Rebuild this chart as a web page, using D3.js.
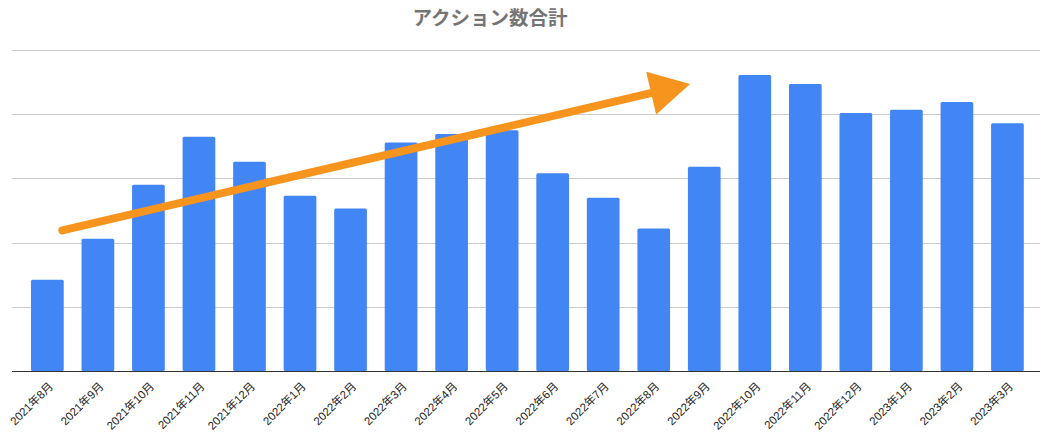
<!DOCTYPE html>
<html><head><meta charset="utf-8">
<script src="https://cdn.jsdelivr.net/npm/d3@7"></script>
<style>
html,body{margin:0;padding:0;background:#fff;}
svg{display:block;}
</style></head>
<body>
<script>
const categories = ["2021年8月","2021年9月","2021年10月","2021年11月","2021年12月","2022年1月","2022年2月","2022年3月","2022年4月","2022年5月","2022年6月","2022年7月","2022年8月","2022年9月","2022年10月","2022年11月","2022年12月","2023年1月","2023年2月","2023年3月"];
const values = [142,206,290,365,326,273,253,356,369,375,308,270,222,318,461,447,402,407,419,386];
const gridTicks = [0,100,200,300,400,500];
const titleText = "アクション数合計";
// annotation arrow in data space: [band index, value]
const arrowStart = [0.296, 219];
const arrowTip = [12.72, 447];

const W = 1052, H = 441;
const svg = d3.select("body").append("svg").attr("width", W).attr("height", H);

const x = d3.scaleBand().domain(categories).range([22.1, 1032.7]).paddingInner(0.353).paddingOuter(0.1765);
const y = d3.scaleLinear().domain([0, 500]).range([371, 50]);
const xi = i => x(categories[0]) + x.bandwidth()/2 + i * x.step();

// gridlines
svg.append("g").selectAll("line").data(gridTicks.filter(d => d > 0)).join("line")
  .attr("x1", 12).attr("x2", 1040)
  .attr("y1", d => Math.round(y(d)) + 0.5).attr("y2", d => Math.round(y(d)) + 0.5)
  .attr("stroke", "#cccccc").attr("stroke-width", 1);

// bars
svg.append("g").selectAll("rect").data(values).join("rect")
  .attr("x", (d, i) => x(categories[i]))
  .attr("width", x.bandwidth())
  .attr("y", d => y(d))
  .attr("height", d => y(0) - y(d))
  .attr("rx", 1.5)
  .attr("fill", "#4285f4");

// baseline
svg.append("line").attr("x1", 12).attr("x2", 1040)
  .attr("y1", y(0) + 0.5).attr("y2", y(0) + 0.5)
  .attr("stroke", "#333333").attr("stroke-width", 1);

// x axis labels
const xAxis = d3.axisBottom(x).tickSize(0).tickPadding(0);
const ax = svg.append("g").attr("transform", `translate(0,${y(0)})`).call(xAxis);
ax.select(".domain").remove();
ax.selectAll("text")
  .attr("font-family", "'Liberation Sans', Arial, 'Noto Sans CJK JP', sans-serif")
  .attr("font-size", 11.5)
  .attr("fill", "#222")
  .attr("text-anchor", "end")
  .attr("dy", null)
  .attr("y", 0)
  .attr("transform", "translate(6.5,16) rotate(-45)");

// title
svg.append("text").attr("x", 490).attr("y", 25)
  .attr("text-anchor", "middle")
  .attr("font-family", "'Noto Sans CJK JP', sans-serif")
  .attr("font-weight", "bold").attr("font-size", 19.5)
  .attr("fill", "#757575").text(titleText);

// arrow annotation
const sx = xi(arrowStart[0]), sy = y(arrowStart[1]);
const tx = xi(arrowTip[0]), ty = y(arrowTip[1]);
const dx = tx - sx, dy = ty - sy, L = Math.hypot(dx, dy);
const ux = dx / L, uy = dy / L, nx = -uy, ny = ux;
const headLen = 40, headHalf = 22;
const bx = tx - ux * headLen, by = ty - uy * headLen;
svg.append("line").attr("x1", sx).attr("y1", sy)
  .attr("x2", bx + ux * 4).attr("y2", by + uy * 4)
  .attr("stroke", "#f7941d").attr("stroke-width", 8).attr("stroke-linecap", "round");
svg.append("path")
  .attr("d", `M${tx},${ty}L${bx + nx*headHalf},${by + ny*headHalf}L${bx - nx*headHalf},${by - ny*headHalf}Z`)
  .attr("fill", "#f7941d");
</script>
</body></html>
